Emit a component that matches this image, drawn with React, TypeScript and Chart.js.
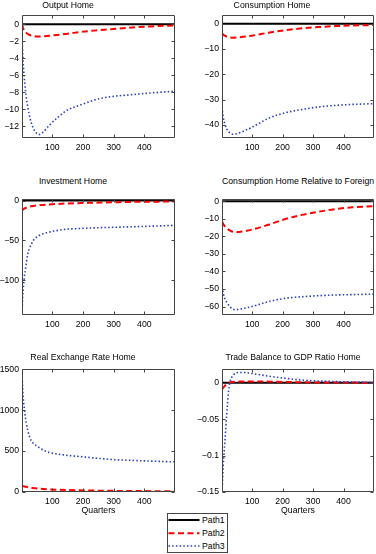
import { useEffect, useRef } from 'react';
import { Chart, registerables } from 'chart.js';

Chart.register(...registerables);

type Pt = [number, number];

const FONT = '"Liberation Sans", Arial, Helvetica, sans-serif';
const FONT_SIZE = 8.7;

// ---------- labels ----------
const legendLabels = ['Path1', 'Path2', 'Path3'];
const quarterTicks = [100, 200, 300, 400];
const xAxisTitle = 'Quarters';

// ---------- Output Home ----------
const outputTicks = [0, -2, -4, -6, -8, -10, -12];
const outputPath1: Pt[] = [[1, 0], [500, 0]];
const outputPath2: Pt[] = [[1, 0], [4, -0.4], [8, -0.75], [14, -1.0], [22, -1.2], [35, -1.37], [55, -1.45], [75, -1.43], [100, -1.33], [145, -1.15], [200, -0.88], [250, -0.72], [300, -0.57], [360, -0.4], [420, -0.27], [500, -0.15]];
const outputPath3: Pt[] = [[1, -1.2], [3, -3.2], [6, -5.2], [10, -7.0], [15, -8.6], [20, -9.8], [28, -11.2], [36, -12.1], [45, -12.7], [56, -13.0], [70, -12.7], [90, -11.9], [120, -10.9], [145, -10.2], [200, -9.4], [250, -8.8], [300, -8.5], [360, -8.3], [420, -8.1], [500, -7.9]];

// ---------- Consumption Home ----------
const consTicks = [0, -10, -20, -30, -40];
const consPath1: Pt[] = [[1, 0], [500, 0]];
const consPath2: Pt[] = [[1, -3.8], [10, -4.7], [20, -5.2], [38, -5.5], [60, -5.3], [99, -4.7], [154, -3.5], [209, -2.5], [264, -1.8], [319, -1.3], [374, -0.9], [430, -0.65], [500, -0.5]];
const consPath3: Pt[] = [[1, -33], [5, -37], [10, -39.5], [16, -41.5], [25, -43], [38, -43.7], [55, -43.3], [75, -42.3], [99, -41], [154, -37.4], [209, -35.2], [264, -33.9], [319, -32.9], [374, -32.3], [429, -31.9], [500, -31.6]];

// ---------- Investment Home ----------
const invTicks = [0, -50, -100];
const invPath1: Pt[] = [[1, 0], [500, 0]];
const invPath2: Pt[] = [[1, -13], [5, -11], [14, -9], [30, -7.2], [58, -5.7], [100, -4.6], [145, -3.7], [200, -3.0], [253, -2.5], [300, -2.1], [362, -1.6], [430, -1.4], [500, -1.2]];
const invPath3: Pt[] = [[1, -141], [3, -122], [6, -106], [9, -95], [12, -87], [16, -76], [20, -67], [25, -60], [31, -55], [38, -50], [46, -46.5], [56, -44], [68, -41.8], [85, -40], [101, -38.5], [145, -36], [199, -34.8], [253, -34], [300, -33.5], [362, -32.8], [430, -32], [500, -31]];

// ---------- Consumption Home Relative to Foreign ----------
const relTicks = [0, -10, -20, -30, -40, -50, -60];
const relPath1: Pt[] = [[1, 0], [500, 0]];
const relPath2: Pt[] = [[1, -11.6], [8, -13.8], [17, -15.5], [30, -17], [44, -17.7], [70, -17.2], [99, -16.2], [154, -13.4], [209, -10.2], [264, -7.8], [319, -6], [374, -4.5], [429, -3.5], [500, -2.8]];
const relPath3: Pt[] = [[1, -48.8], [6, -53], [12, -56.2], [20, -58.5], [28, -60.3], [44, -61.8], [65, -61.3], [99, -60], [154, -57.2], [209, -55.3], [264, -54.4], [319, -53.8], [374, -53.4], [429, -53.2], [500, -52.9]];

// ---------- Real Exchange Rate Home ----------
const rerTicks = [0, 500, 1000, 1500];
const rerPath1: Pt[] = [[1, 0], [500, 0]];
const rerPath2: Pt[] = [[1, 72], [36, 48], [90, 32], [145, 24], [253, 16], [362, 12], [500, 8]];
const rerPath3: Pt[] = [[1, 1450], [4, 1206], [9, 1005], [15, 844], [25, 683], [36, 603], [52, 555], [69, 515], [91, 482], [145, 450], [199, 430], [253, 410], [308, 394], [362, 386], [416, 378], [500, 368]];

// ---------- Trade Balance to GDP Ratio Home ----------
const tbTicks = [0, -0.05, -0.1, -0.15];
const tbPath1: Pt[] = [[1, 0], [500, 0]];
const tbPath2: Pt[] = [[1, -0.009], [10, -0.0045], [25, 0], [60, 0.0015], [100, 0.0018], [200, 0.001], [300, 0.0004], [500, 0]];
const tbPath3: Pt[] = [[1, -0.15], [5, -0.114], [11, -0.078], [16, -0.046], [22, -0.0145], [27, 0], [38, 0.0104], [55, 0.014], [77, 0.014], [99, 0.0127], [154, 0.009], [209, 0.006], [264, 0.0036], [319, 0.0023], [429, 0.001], [500, 0.0005]];

// ---------- styles ----------
const colors = ['#000000', '#ff0000', '#2a3ec8'];
const widths = [2, 2, 1.6];
const dashes: number[][] = [[], [6, 3.5], [1.5, 2.2]];

Chart.defaults.font.family = FONT;
Chart.defaults.font.size = FONT_SIZE;
Chart.defaults.color = '#000';

function fmt(v: number) {
  return String(v).replace('-', '\u2212');
}

const boxPlugin = {
  id: 'matlabBox',
  afterDraw(chart: any) {
    const { ctx, chartArea } = chart;
    const xs = chart.scales.x;
    const ys = chart.scales.y;
    const L = Math.round(chartArea.left) + 0.5;
    const R = Math.round(chartArea.right) - 0.5;
    const T = Math.round(chartArea.top) + 0.5;
    const B = Math.round(chartArea.bottom) - 0.5;
    const tl = 3;
    ctx.save();
    ctx.strokeStyle = '#444';
    ctx.lineWidth = 1;
    ctx.setLineDash([]);
    ctx.beginPath();
    ctx.rect(L, T, R - L, B - T);
    xs.ticks.forEach((t: any) => {
      const px = Math.round(xs.getPixelForValue(t.value)) + 0.5;
      ctx.moveTo(px, B);
      ctx.lineTo(px, B - tl);
      ctx.moveTo(px, T);
      ctx.lineTo(px, T + tl);
    });
    ys.ticks.forEach((t: any) => {
      const py = Math.round(ys.getPixelForValue(t.value)) + 0.5;
      ctx.moveTo(L, py);
      ctx.lineTo(L + tl, py);
      ctx.moveTo(R, py);
      ctx.lineTo(R - tl, py);
    });
    ctx.stroke();
    ctx.restore();
  },
};

interface PanelDef {
  title: string;
  titleCx: number;
  titleCy: number;
  yTicks: number[];
  yMin: number;
  yMax: number;
  series: Pt[][];
  col: 0 | 1;
  plotTop: number;
  plotBottom: number;
  xTitle: boolean;
}

const panels: PanelDef[] = [
  { title: 'Output Home', titleCx: 68, titleCy: 4.5, yTicks: outputTicks, yMin: -13.4, yMax: 1.05, series: [outputPath1, outputPath2, outputPath3], col: 0, plotTop: 13, plotBottom: 138, xTitle: false },
  { title: 'Consumption Home', titleCx: 272, titleCy: 4.5, yTicks: consTicks, yMin: -45.2, yMax: 3.4, series: [consPath1, consPath2, consPath3], col: 1, plotTop: 13, plotBottom: 138, xTitle: false },
  { title: 'Investment Home', titleCx: 73, titleCy: 180.5, yTicks: invTicks, yMin: -143.4, yMax: 1.7, series: [invPath1, invPath2, invPath3], col: 0, plotTop: 197, plotBottom: 315, xTitle: false },
  { title: 'Consumption Home Relative to Foreign', titleCx: 298, titleCy: 180.5, yTicks: relTicks, yMin: -64.8, yMax: 1.1, series: [relPath1, relPath2, relPath3], col: 1, plotTop: 197, plotBottom: 315, xTitle: false },
  { title: 'Real Exchange Rate Home', titleCx: 83, titleCy: 357, yTicks: rerTicks, yMin: 0, yMax: 1500, series: [rerPath1, rerPath2, rerPath3], col: 0, plotTop: 367, plotBottom: 492, xTitle: true },
  { title: 'Trade Balance to GDP Ratio Home', titleCx: 293, titleCy: 357, yTicks: tbTicks, yMin: -0.15, yMax: 0.0185, series: [tbPath1, tbPath2, tbPath3], col: 1, plotTop: 367, plotBottom: 492, xTitle: true },
];

const PADT = 6;

function geometry(def: PanelDef) {
  const left = def.col === 0 ? 0 : 190;
  const w = def.col === 0 ? 180 : 186;
  const yAxisW = def.col === 0 ? 22 : 32;
  const padRight = def.col === 0 ? 5 : 2;
  const xAxisH = def.xTitle ? 24 : 18;
  const top = def.plotTop - PADT;
  const h = PADT + (def.plotBottom - def.plotTop) + xAxisH;
  return { left, w, yAxisW, padRight, xAxisH, top, h };
}

function Panel({ def }: { def: PanelDef }) {
  const ref = useRef<HTMLCanvasElement>(null);
  const geo = geometry(def);
  useEffect(() => {
    const font = { family: FONT, size: FONT_SIZE };
    const chart = new Chart(ref.current as HTMLCanvasElement, {
      type: 'line',
      data: {
        datasets: def.series.map((s, i) => ({
          label: legendLabels[i],
          data: s.map(([x, y]) => ({ x, y })),
          borderColor: colors[i],
          backgroundColor: colors[i],
          borderWidth: widths[i],
          borderDash: dashes[i],
          borderCapStyle: 'butt',
          pointRadius: 0,
          fill: false,
          cubicInterpolationMode: 'monotone',
          order: 2 - i,
        })),
      },
      options: {
        animation: false,
        responsive: false,
        events: [],
        layout: { padding: { top: PADT, right: geo.padRight, left: 0, bottom: 0 } },
        plugins: { legend: { display: false }, tooltip: { enabled: false }, title: { display: false } },
        scales: {
          x: {
            type: 'linear',
            min: 1,
            max: 500,
            grid: { display: false, drawTicks: false },
            border: { display: false },
            afterBuildTicks: (s: any) => {
              s.ticks = quarterTicks.map((v) => ({ value: v }));
            },
            afterFit: (s: any) => {
              s.height = geo.xAxisH;
            },
            ticks: { autoSkip: false, maxRotation: 0, padding: 4, color: '#000', font, callback: (v: any) => fmt(Number(v)) },
            title: { display: def.xTitle, text: xAxisTitle, color: '#000', font, padding: 0 },
          },
          y: {
            type: 'linear',
            min: def.yMin,
            max: def.yMax,
            grid: { display: false, drawTicks: false },
            border: { display: false },
            afterBuildTicks: (s: any) => {
              s.ticks = def.yTicks.map((v) => ({ value: v }));
            },
            afterFit: (s: any) => {
              s.width = geo.yAxisW;
            },
            ticks: { autoSkip: false, padding: 3, color: '#000', font, callback: (v: any) => fmt(Number(v)) },
          },
        },
      } as any,
      plugins: [boxPlugin],
    });
    return () => chart.destroy();
  }, []);
  return (
    <canvas
      ref={ref}
      width={geo.w}
      height={geo.h}
      style={{ position: 'absolute', left: geo.left, top: geo.top, width: geo.w, height: geo.h }}
    />
  );
}

function Legend() {
  const rows = [7, 20.3, 33];
  return (
    <div style={{ position: 'absolute', left: 167, top: 513, width: 61, height: 40, background: '#fff', zIndex: 2, fontFamily: FONT, fontSize: FONT_SIZE }}>
      <svg width={61} height={40} style={{ position: 'absolute', left: 0, top: 0 }}>
        <rect x={0.5} y={0.5} width={60} height={39} fill="#fff" stroke="#444" strokeWidth={1} />
        {rows.map((ry, i) => (
          <line
            key={i}
            x1={1.5}
            x2={32.5}
            y1={ry}
            y2={ry}
            stroke={colors[i]}
            strokeWidth={widths[i]}
            strokeDasharray={dashes[i].length ? dashes[i].join(' ') : undefined}
          />
        ))}
      </svg>
      {rows.map((ry, i) => (
        <div key={i} style={{ position: 'absolute', left: 35, top: ry - 5, lineHeight: '10px', whiteSpace: 'nowrap', color: '#000' }}>
          {legendLabels[i]}
        </div>
      ))}
    </div>
  );
}

export default function App() {
  return (
    <div style={{ position: 'absolute', left: 0, top: 0, width: 376, height: 554, background: '#fff', overflow: 'hidden' }}>
      {panels.map((p, i) => (
        <Panel key={i} def={p} />
      ))}
      {panels.map((p, i) => (
        <div
          key={'t' + i}
          style={{
            position: 'absolute',
            left: p.titleCx,
            top: p.titleCy - 5,
            transform: 'translateX(-50%)',
            whiteSpace: 'nowrap',
            fontFamily: FONT,
            fontSize: FONT_SIZE,
            lineHeight: '10px',
            color: '#000',
          }}
        >
          {p.title}
        </div>
      ))}
      <Legend />
    </div>
  );
}
